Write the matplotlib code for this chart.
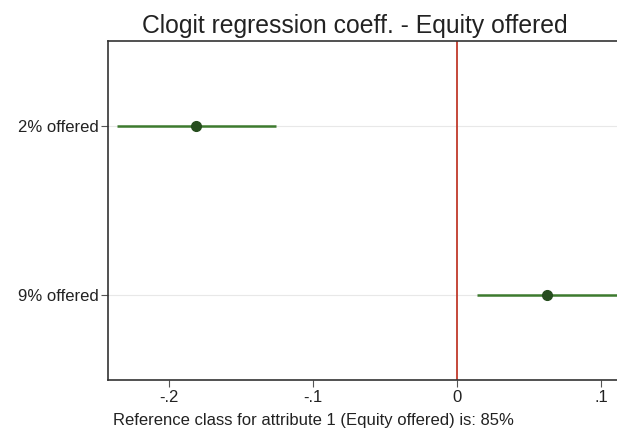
import matplotlib
matplotlib.use("Agg")
import matplotlib.pyplot as plt

plt.rcParams['font.family'] = ['Liberation Sans', 'DejaVu Sans']

labels = ["2% offered", "9% offered"]
coef = [-0.181, 0.0625]
ci_low = [-0.236, 0.014]
ci_high = [-0.126, 0.13]
xticks = [-0.2, -0.1, 0, 0.1]
xticklabels = ["-.2", "-.1", "0", ".1"]

fig = plt.figure(figsize=(6.17, 4.30), dpi=100)
ax = fig.add_axes([108/617, 50/430, 1 - 108/617, 339/430])

ypos = [1, 2]
for y in ypos:
    ax.axhline(y, color="#e8e8e8", lw=0.8, zorder=0)
ax.axvline(0, color="#c0392b", lw=1.3, zorder=1)

ax.hlines(ypos, ci_low, ci_high, color="#3d7a2e", lw=1.8, zorder=2)
ax.plot(coef, ypos, "o", color="#264d1e", ms=7, zorder=3)

ax.set_xlim(-0.2424, 0.1111)
ax.set_ylim(2.5, 0.5)
ax.set_yticks(ypos)
ax.set_yticklabels(labels, fontsize=12)
ax.set_xticks(xticks)
ax.set_xticklabels(xticklabels, fontsize=12)
ax.tick_params(length=5, color="#555555", labelcolor="#222222", pad=2)
for s in ["left", "bottom", "top"]:
    ax.spines[s].set_color("#333333")
    ax.spines[s].set_linewidth(1.2)
ax.spines["right"].set_visible(False)

ax.set_xlabel("Reference class for attribute 1 (Equity offered) is: 85%",
              fontsize=12, color="#222222")
ax.xaxis.set_label_coords((313 - 108) / 509, -(420 - 380) / 339, transform=ax.transAxes)
ax.xaxis.label.set_va("center")
fig.text(355/617, 1 - 26/430, "Clogit regression coeff. - Equity offered",
         ha="center", va="center", fontsize=17.8, color="#222222")

fig.savefig("out.png", dpi=100)
